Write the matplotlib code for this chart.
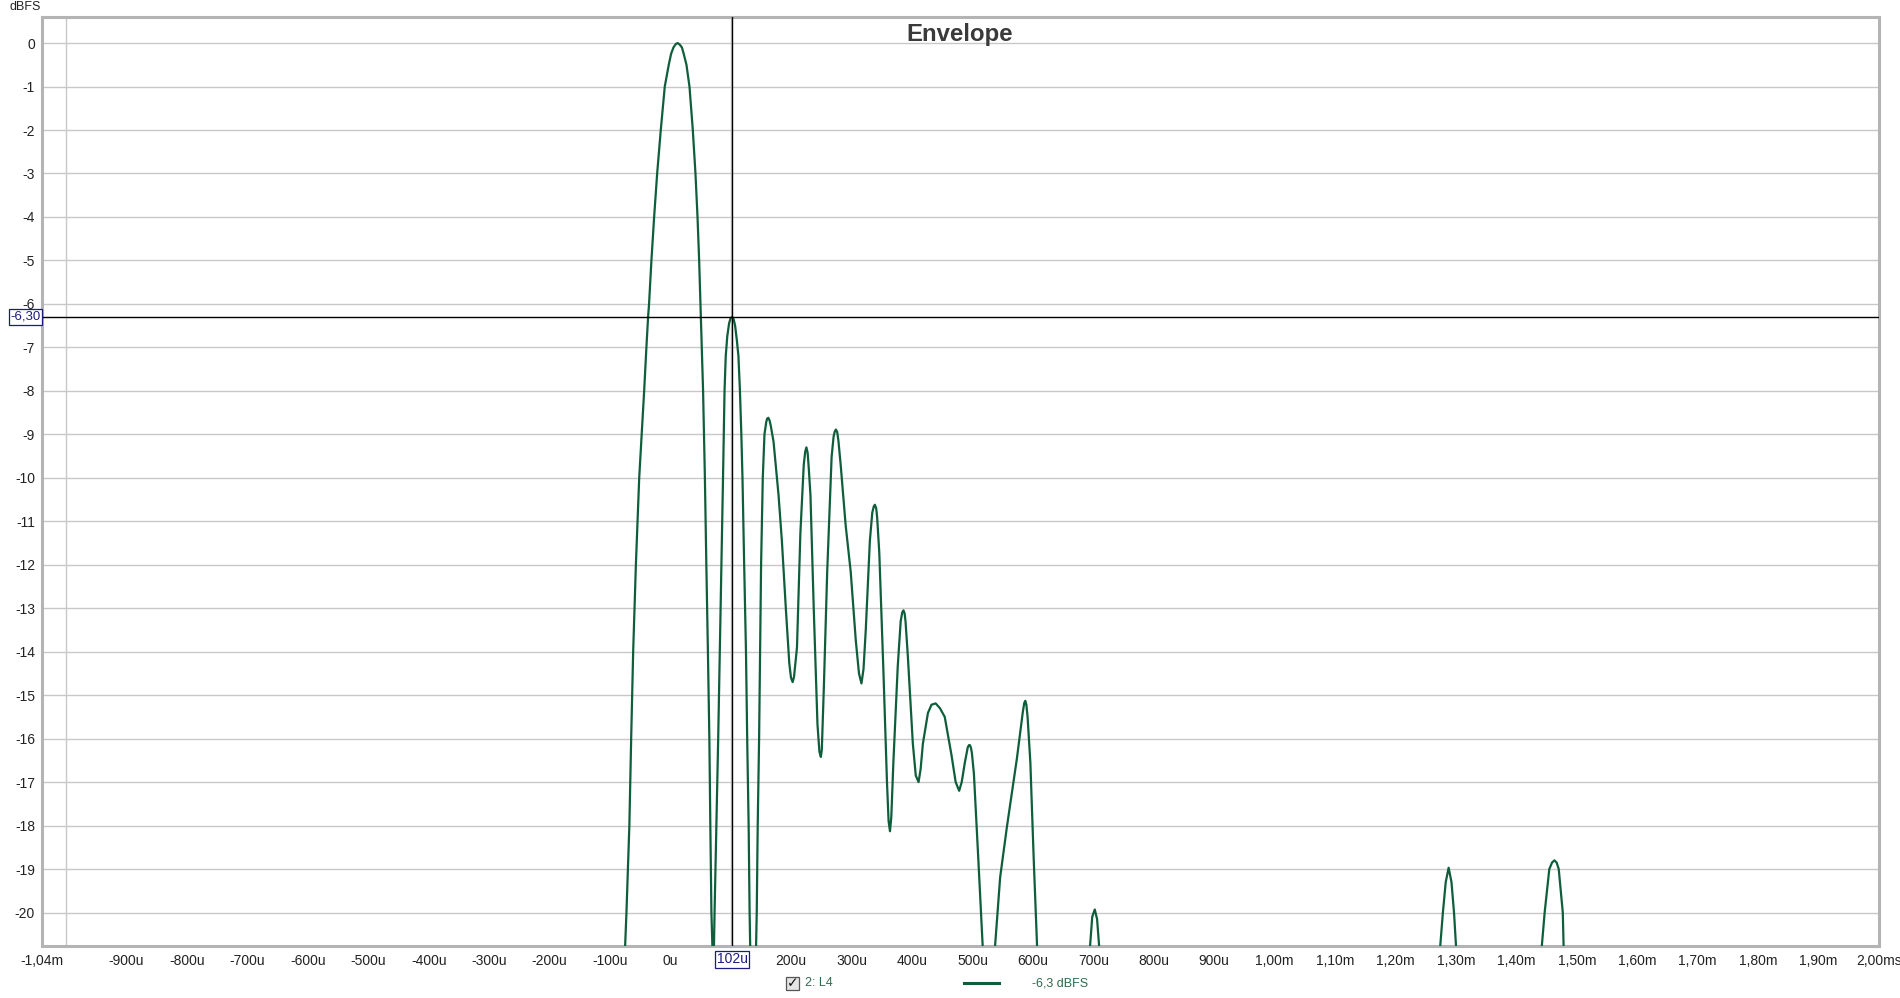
import matplotlib
matplotlib.use("Agg")
from matplotlib import pyplot as plt
from matplotlib.lines import Line2D
from matplotlib.patches import FancyBboxPatch

plt.rcParams['font.family'] = ['Liberation Sans', 'DejaVu Sans']

# Envelope trace (time in microseconds, level in dBFS)
time_us = [
    -85, -75, -72.8, -68, -65, -61.7, -57.2, -51.7, -43.5, -39.8, -37, -35.4, -31.5,
    -27, -22, -16, -9.4, -2.8, 1, 5, 9, 12, 15, 19, 22, 26.5, 31.5, 37, 41.4,
    44.8, 47.5, 49.7, 52, 54, 57, 59.4, 62, 64.4, 66, 67.8, 69.4, 70.7,
    72, 73, 76, 79, 81.7, 84.4, 87, 89.5, 91.5, 94, 97, 99.5, 102, 104.5, 107,
    110, 112.5, 114, 115, 117.3, 119.2, 122, 125, 127, 129.4, 131, 132, 137,
    141.7, 142.8, 144.4, 146.7, 148.3, 150, 152.8, 155.6, 158.5, 160, 162, 164, 166,
    170.6, 178.9, 184.4, 191.1, 196.7, 199.5, 202.2, 204.5, 209.4, 215, 220.6,
    223, 225, 227, 229, 231.7, 237.2, 243.3, 246.5, 248.9, 250.5, 253.9, 259.4,
    266.7, 270, 272, 273.9, 276, 278, 281.7, 290, 298.3, 306.7, 312, 316.1, 319.5,
    323.3, 330, 334, 336.5, 338.3, 340.5, 342, 345.6, 352.2, 358.3, 361, 363.3,
    365.5, 368.9, 376.1, 381, 383.5, 385.6, 387.5, 389, 392.8, 401.1, 406, 410.6,
    414, 417.8, 426.1, 432, 438.9, 446, 453.9, 465, 472, 477.8, 482, 487.2, 492,
    494, 495.6, 497.5, 499, 502.2, 509.4, 516.7, 527, 537.2, 545.6, 556.7, 573.3,
    583, 585.5, 587.2, 589, 591, 595.6, 601.1, 606.7, 612, 690, 694.4, 698, 702.2,
    706, 709.4, 714,
    1270, 1273.9, 1278.3, 1283, 1287.8, 1292.5, 1296.7, 1300, 1304,
    1438, 1442, 1446.7, 1454.4, 1459, 1462.8, 1466.5, 1470, 1476.7, 1478, 1482,
]
level_db = [
    -25, -20.77, -20, -18, -16, -14, -12, -10, -8, -7, -6.3, -6, -5,
    -4, -3, -2, -1, -0.5, -0.25, -0.1, -0.02, 0, -0.03, -0.1, -0.25, -0.5, -1, -2, -3,
    -4, -5, -6, -7, -8, -10, -12, -14, -16, -18, -20, -20.77, -22,
    -20.77, -20, -18, -16, -14, -12, -10, -8, -7.2, -6.75, -6.45, -6.33, -6.3, -6.35, -6.5,
    -6.85, -7.2, -7.7, -8, -9, -10, -12, -14, -16, -18, -20, -20.77, -25,
    -20.77, -20, -18, -16, -14, -12, -10, -9, -8.72, -8.64, -8.62, -8.68, -8.8,
    -9.17, -10.4, -11.45, -13.04, -14.27, -14.6, -14.7, -14.58, -13.9, -11.28, -9.7,
    -9.4, -9.3, -9.42, -9.8, -10.4, -13.04, -15.67, -16.3, -16.42, -16.25, -14.8, -12.16,
    -9.52, -9.05, -8.93, -8.89, -8.95, -9.15, -9.7, -11.1, -12.16, -13.74, -14.5, -14.73, -14.4,
    -13.48, -11.45, -10.8, -10.66, -10.62, -10.7, -10.9, -11.72, -14.35, -16.99, -17.9, -18.13,
    -17.8, -16.55, -14.35, -13.3, -13.1, -13.05, -13.12, -13.3, -14.09, -16.11, -16.85, -17.0,
    -16.7, -16.11, -15.41, -15.22, -15.19, -15.3, -15.5, -16.37, -17.0, -17.2, -17.0, -16.55, -16.2,
    -16.15, -16.15, -16.22, -16.35, -16.81, -18.75, -20.77, -24, -20.77, -19.19, -18.04, -16.46,
    -15.4, -15.18, -15.13, -15.22, -15.5, -16.55, -18.75, -20.77, -23, -23, -20.77, -20.1, -19.93,
    -20.15, -20.77, -23,
    -23, -20.77, -20, -19.3, -18.97, -19.3, -20, -20.77, -23,
    -23, -20.77, -20, -19, -18.85, -18.8, -18.85, -19, -20, -20.77, -23,
]

x_tick_pos = [-1040, -900, -800, -700, -600, -500, -400, -300, -200, -100, 0,
              200, 300, 400, 500, 600, 700, 800, 900, 1000, 1100, 1200, 1300,
              1400, 1500, 1600, 1700, 1800, 1900, 2000]
x_tick_labels = ['-1,04m', '-900u', '-800u', '-700u', '-600u', '-500u', '-400u',
                 '-300u', '-200u', '-100u', '0u', '200u', '300u', '400u', '500u',
                 '600u', '700u', '800u', '900u', '1,00m', '1,10m', '1,20m', '1,30m',
                 '1,40m', '1,50m', '1,60m', '1,70m', '1,80m', '1,90m', '2,00ms']
y_ticks = list(range(0, -21, -1))

cursor_x = 102
cursor_y = -6.3
line_color = '#0f5e3b'

fig = plt.figure(figsize=(19, 9.98), dpi=100)
ax = fig.add_axes([42 / 1900, 52 / 998, 1837 / 1900, 929 / 998])

ax.plot(time_us, level_db, color=line_color, lw=1.6, zorder=3)

ax.set_xlim(-1040, 2000)
ax.set_ylim(-20.77, 0.6)

ax.set_xticks(x_tick_pos)
ax.set_xticklabels(x_tick_labels)
ax.set_xticks(range(-1000, 2000, 100), minor=True)
ax.set_yticks(y_ticks)
ax.set_yticklabels([str(v) for v in y_ticks])
ax.tick_params(axis='both', which='both', length=0, labelsize=10, colors='#222222')
ax.tick_params(axis='x', pad=6)
ax.tick_params(axis='y', pad=5)
ax.grid(True, which='minor', axis='x', color='#c8c8c8', lw=1)
ax.grid(True, which='major', axis='y', color='#c8c8c8', lw=1)
ax.set_axisbelow(True)

for s in ax.spines.values():
    s.set_color('#b4b4b4')
    s.set_linewidth(2.2)

# cursor
ax.axvline(cursor_x, color='black', lw=1, zorder=4)
ax.axhline(cursor_y, color='black', lw=1, zorder=4)
box = dict(boxstyle='square,pad=0.12', fc='white', ec='#1c1c80', lw=0.9)
ax.annotate('-6,30', xy=(0, cursor_y), xycoords=('axes fraction', 'data'),
            xytext=(-1, 0), textcoords='offset points', ha='right', va='center',
            fontsize=9.5, color='#1c1c80', bbox=box, zorder=5, annotation_clip=False)
ax.annotate('102u', xy=(cursor_x, 0), xycoords=('data', 'axes fraction'),
            xytext=(0, -4.5), textcoords='offset points', ha='center', va='top',
            fontsize=10, color='#1c1c80', bbox=box, zorder=5, annotation_clip=False)

fig.text(960 / 1900, 1 - 34 / 998, 'Envelope', ha='center', va='center',
         fontsize=17.3, fontweight='bold', color='#3a3a3a')
fig.text(9 / 1900, 1 - 7.5 / 998, 'dBFS', ha='left', va='center', fontsize=9, color='#222222')

# legend row
ly = 1 - 983 / 998
fig.patches.append(FancyBboxPatch((786 / 1900, ly - 6.5 / 998), 13 / 1900, 13 / 998,
                                  boxstyle='square,pad=0', fc='#e4e4e4', ec='#555555',
                                  lw=0.9, transform=fig.transFigure, figure=fig))
fig.text(792.5 / 1900, ly, '\u2713', ha='center', va='center', fontsize=10,
         fontweight='bold', family='DejaVu Sans', color='#111111')
fig.text(805 / 1900, ly, '2: L4', ha='left', va='center', fontsize=9, color='#2e6b4c')
fig.lines.append(Line2D([964 / 1900, 999 / 1900], [ly, ly], color=line_color, lw=2.2,
                        transform=fig.transFigure))
fig.text(1032 / 1900, ly, '-6,3 dBFS', ha='left', va='center', fontsize=9, color='#2e6b4c')

fig.savefig('out.png', dpi=100, facecolor='white')
